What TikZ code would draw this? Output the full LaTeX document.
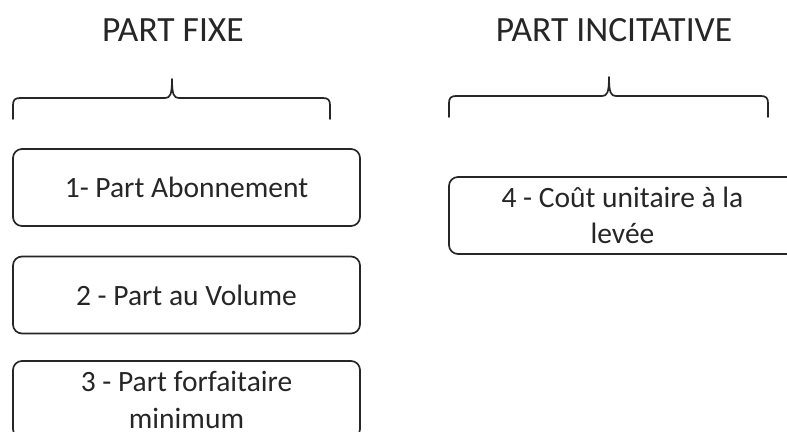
\documentclass[tikz,border=0pt]{standalone}
\usepackage{fontspec}
\setmainfont{Carlito}
\definecolor{ink}{HTML}{262626}
\begin{document}
\begin{tikzpicture}[x=1pt,y=-1pt,
  title/.style={anchor=base,text=ink,font=\fontsize{35.5}{42}\selectfont,inner sep=0pt},
  part/.style={draw=ink,line width=1.7pt,rounded corners=9pt,minimum width=347pt,minimum height=77pt,
    align=center,text=ink,font=\fontsize{29.5}{36}\selectfont,inner sep=0pt},
  brace/.style={draw=ink,line width=1.7pt,line cap=round,line join=round}]
\useasboundingbox (0,0) rectangle (787,431);
\clip (0,0) rectangle (787,431);
% titles
\node[title] (tfixe) at (173,41) {PART FIXE};
\node[title] (tinc) at (614,41) {PART INCITATIVE};
% braces
\path[brace] (13,119) -- (13,105) .. controls (13,100) and (15,98) .. (20,98) -- (165,98)
  .. controls (170,98) and (172,95) .. (172,79)
  .. controls (172,95) and (174,98) .. (179,98) -- (323,98)
  .. controls (328,98) and (330,100) .. (330,105) -- (330,119);
\path[brace] (449,117) -- (449,103) .. controls (449,98) and (451,96) .. (456,96) -- (602,96)
  .. controls (607,96) and (609,93) .. (609,77)
  .. controls (609,93) and (611,96) .. (616,96) -- (761,96)
  .. controls (766,96) and (768,98) .. (768,103) -- (768,117);
% boxes
\node[part] (b1) at (186.5,187.5) {1- Part Abonnement};
\node[part] (b2) at (186.5,295) {2 - Part au Volume};
\node[part] (b3) at (186.5,399.5) {3 - Part forfaitaire\\[1pt] minimum};
\node[part] (b4) at (622.5,215.5) {4 - Coût unitaire à la\\ levée};
\end{tikzpicture}
\end{document}
